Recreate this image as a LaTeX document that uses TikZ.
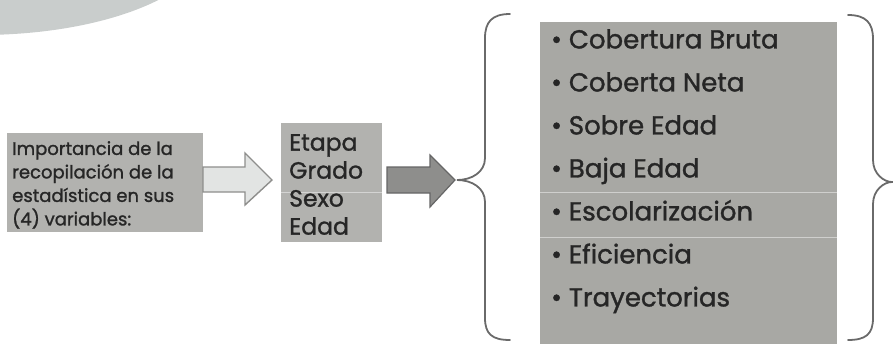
\documentclass[tikz,border=0pt]{standalone}
\usepackage{fontspec}
\setmainfont{Poppins}[FakeBold=1.3]
\definecolor{boxgray}{HTML}{B2B2AF}
\definecolor{listgray}{HTML}{A8A8A4}
\definecolor{txt}{HTML}{262626}
\definecolor{blob}{HTML}{C9CDCC}
\definecolor{bracec}{HTML}{6A6A6A}
\definecolor{arrowlight}{HTML}{E2E4E3}
\definecolor{arrowdark}{HTML}{8E8E8C}
\tikzset{
  graybox/.style={draw=none, fill=boxgray, inner sep=0pt, outer sep=0pt},
  boxtext/.style={text=txt, align=left, inner sep=0pt, anchor=north west},
  bracestyle/.style={draw=bracec, line width=1.8pt, line cap=round},
  seam/.style={draw=white, opacity=0.45, line width=1pt}
}
\begin{document}
\begin{tikzpicture}[x=1pt,y=-1pt]
\useasboundingbox (0,0) rectangle (893,343);
% corner blob
\fill[blob] (-20,-60) ellipse [x radius=230, y radius=95];
% boxes
\node[graybox, minimum width=196pt, minimum height=99pt, anchor=north west] (imp) at (7,133) {};
\node[graybox, minimum width=101pt, minimum height=119pt, anchor=north west] (var) at (281,123) {};
\node[graybox, fill=listgray, minimum width=297pt, minimum height=330pt, anchor=north west] (list) at (540,22) {};
% seams
\draw[seam] (list.west |- 0,192) -- (list.east |- 0,192);
\draw[seam] (list.west |- 0,237) -- (list.east |- 0,237);
\draw[seam] (var.west |- 0,192) -- (var.east |- 0,192);
% texts
\node[boxtext, font=\fontsize{18}{23.5}\selectfont] (imptext) at (12,141)
  {Importancia de la\\recopilación de la\\estadística en sus\\(4) variables:};
\node[boxtext, font=\fontsize{23.5}{28}\selectfont] (vartext) at (289,134)
  {Etapa\\Grado\\Sexo\\Edad};
\node[boxtext, font=\fontsize{26}{43}\selectfont] (listtext) at (551,29)
  {\textbullet\ Cobertura Bruta\\\textbullet\ Coberta Neta\\\textbullet\ Sobre Edad\\\textbullet\ Baja Edad\\\textbullet\ Escolarización\\\textbullet\ Eficiencia\\\textbullet\ Trayectorias};
% arrows
\draw[draw=arrowdark, fill=arrowlight, line width=1.4pt, line join=miter]
  (imp.east |- 0,167) -- (245,167) -- (245,153) -- (272,180) -- (245,205) -- (245,192) -- (imp.east |- 0,192) -- cycle;
\draw[draw=gray!80!black, fill=arrowdark, line width=1.2pt, line join=miter]
  (387,167) -- (430,167) -- (430,155) -- (455,180) -- (430,207) -- (430,193) -- (387,193) -- cycle;
% braces
\coordinate (lcusp) at (457,180);
\coordinate (rcusp) at (892,182);
\draw[bracestyle] (510,14) .. controls (492,14) and (485,22) .. (485,38)
  -- (485,158) .. controls (485,172) and (472,180) .. (lcusp)
  .. controls (472,180) and (485,188) .. (485,202)
  -- (485,318) .. controls (485,334) and (492,340) .. (510,340);
\draw[bracestyle] (848,15) .. controls (866,15) and (873,23) .. (873,39)
  -- (873,160) .. controls (873,174) and (884,182) .. (rcusp)
  .. controls (884,182) and (873,190) .. (873,204)
  -- (873,318) .. controls (873,334) and (866,340) .. (848,340);
\end{tikzpicture}
\end{document}
